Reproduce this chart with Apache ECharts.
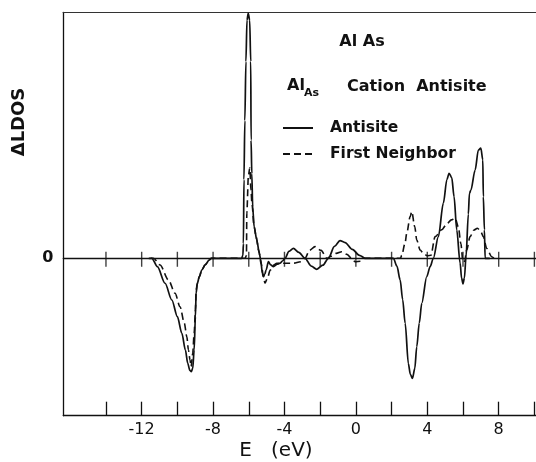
<!DOCTYPE html>
<html>
<head>
<meta charset="utf-8">
<script src="https://cdn.jsdelivr.net/npm/echarts@6/dist/echarts.min.js"></script>
<style>
  html, body { margin: 0; padding: 0; background: #fff; }
  #chart { width: 536px; height: 462px; }
</style>
</head>
<body>
<div id="chart"></div>
<script>
// energy (eV) and delta LDOS
var antisiteE = [-11.6, -11.43, -11.12, -10.69, -10.31, -10.0, -9.75, -9.55, -9.42, -9.3, -9.22, -9.14, -9.06, -8.99, -8.95, -8.88, -8.77, -8.63, -8.45, -8.21, -8.1,
    -6.4, -6.33, -6.3, -6.27, -6.22, -6.16, -6.1, -6.03, -5.95, -5.89, -5.87, -5.83, -5.78, -5.7, -5.55, -5.41, -5.33, -5.24, -5.18, -5.1, -5.03, -4.9, -4.77, -4.62, -4.4, -4.25, -4.1, -3.97,
    -3.75, -3.5, -3.2, -2.85, -2.5, -2.19, -1.85, -1.54, -1.2, -0.89, -0.6, -0.2, 0.2, 0.52,
    2.1, 2.3, 2.48, 2.62, 2.76, 2.94, 3.05, 3.17, 3.3, 3.41, 3.55, 3.69, 3.97, 4.16, 4.34, 4.62, 4.9, 5.1, 5.22, 5.37, 5.5, 5.65, 5.84, 5.92, 6.0, 6.08, 6.17,
    6.3, 6.36, 6.44, 6.68, 6.86, 7.0, 7.11, 7.14, 7.2, 7.24, 7.5];
var antisiteDos = [0, 0, -0.85, -2.54, -4.24, -5.93, -7.62, -9.32, -10.67, -11.4, -11.52, -11.2, -9.3, -5.93, -3.56, -2.54, -1.87, -1.19, -0.68, -0.17, 0,
    0, 0.3, 1.5, 8, 14, 20, 24.2, 24.9, 24.2, 20, 12, 8.6, 5.2, 3.2, 1.86, 0.5, -0.17, -1.52, -1.87, -1.6, -1.19, -0.35, -0.68, -0.85, -0.6, -0.5, -0.25, 0,
    0.7, 1.0, 0.6, 0, -0.8, -1.12, -0.7, 0, 1.2, 1.79, 1.6, 0.9, 0.3, 0,
    0, -0.8, -2.2, -4.2, -6.6, -10.7, -11.8, -12.2, -11.2, -9.0, -6.6, -4.57, -1.87, -0.85, 0, 2.2, 5.6, 8.0, 8.64, 8.2, 6.26, 2.88, -0.5, -2.0, -2.6, -2.0, 0.16,
    4.5, 6.6, 6.9, 8.97, 11.0, 11.2, 10.0, 6.26, 2.9, 0, 0];

var neighborE = [-11.5, -11.34, -10.97, -10.5, -10.13, -9.85, -9.61, -9.47, -9.38, -9.29, -9.23, -9.14, -9.06, -8.99, -8.95, -8.88, -8.77, -8.63, -8.45, -8.21, -8.1,
    -6.2, -6.13, -6.11, -6.02, -5.94, -5.88, -5.82, -5.7, -5.59, -5.45, -5.3, -5.18, -5.09, -4.95, -4.8, -4.6, -4.43, -4.0, -3.5, -3.1,
    -2.85, -2.6, -2.29, -1.95, -1.63, -1.4, -1.1, -0.79, -0.5, -0.2, -0.04, 0.25, 0.5,
    2.5, 2.57, 2.75, 2.85, 3.04, 3.13, 3.3, 3.41, 3.6, 3.78, 4.0, 4.2, 4.44, 4.81, 5.1, 5.35, 5.56, 5.74, 5.88, 6.0, 6.1, 6.2, 6.4, 6.6, 6.81, 7.0, 7.14, 7.33, 7.61, 7.74];
var neighborDos = [0, 0, -0.68, -2.2, -3.56, -4.92, -6.6, -7.97, -9.32, -10.34, -11.0, -9.65, -7.62, -5.25, -3.22, -2.54, -1.87, -1.19, -0.68, -0.17, 0,
    0, 0.3, 4.6, 8.4, 9.2, 7.0, 5.5, 3.2, 2.2, 0.84, -0.6, -1.87, -2.54, -2.0, -1.2, -0.7, -0.5, -0.5, -0.5, -0.35,
    0, 0.8, 1.18, 0.8, 0, 0.2, 0.5, 0.67, 0.4, -0.1, -0.35, -0.3, 0,
    0, 0.3, 1.5, 2.54, 4.23, 4.74, 3.2, 1.86, 0.84, 0.5, 0.25, 0.3, 2.2, 2.9, 3.5, 3.9, 4.07, 3.2, 1.5, -0.4, -0.3, 0.8, 2.2, 2.85, 3.05, 2.7, 2.2, 1.0, 0.16, 0];

var tickValues = [-14, -12, -10, -8, -6, -4, -2, 0, 2, 4, 6, 8, 10];
var labelValues = [-12, -8, -4, 0, 4, 8];
var seriesNames = ['Antisite', 'First Neighbor'];

function pairs(xs, ys) {
    return xs.map(function (x, i) { return [x, ys[i]]; });
}

var xMin = -16.39, xMax = 10.09;
var ink = '#111';
var font = 'DejaVu Sans';

var myChart = echarts.init(document.getElementById('chart'), null, { renderer: 'canvas' });

var option = {
    animation: false,
    backgroundColor: '#fff',
    grid: { left: 63.3, right: 0, top: 12.3, bottom: 46.3 },
    legend: {
        data: seriesNames,
        orient: 'vertical',
        left: 277,
        top: 115,
        itemWidth: 30,
        itemHeight: 14,
        itemGap: 10,
        selectedMode: false,
        itemStyle: { opacity: 0 },
        textStyle: { color: ink, fontFamily: font, fontWeight: 'bold', fontSize: 15.5, padding: [0, 0, 0, 12] }
    },
    xAxis: [
        {
            type: 'value', min: xMin, max: xMax, position: 'bottom',
            axisLine: { onZero: false, lineStyle: { color: ink, width: 1.3 } },
            axisTick: { inside: true, length: 14, customValues: tickValues, lineStyle: { color: ink, width: 1.3 } },
            axisLabel: { customValues: labelValues, margin: 6, color: ink, fontFamily: font, fontSize: 16 },
            splitLine: { show: false }
        },
        {
            // zero line
            type: 'value', min: xMin, max: xMax,
            axisLine: { onZero: true, lineStyle: { color: ink, width: 1.3 } },
            axisTick: { show: false }, axisLabel: { show: false }, splitLine: { show: false }
        },
        {
            // top frame
            type: 'value', min: xMin, max: xMax, position: 'top',
            axisLine: { onZero: false, lineStyle: { color: '#333', width: 1 } },
            axisTick: { show: false }, axisLabel: { show: false }, splitLine: { show: false }
        }
    ],
    yAxis: {
        type: 'value', min: -16, max: 25,
        axisLine: { show: true, onZero: false, lineStyle: { color: ink, width: 1.3 } },
        axisTick: { show: false },
        axisLabel: { customValues: [0], margin: 10, color: ink, fontFamily: font, fontWeight: 'bold', fontSize: 16 },
        splitLine: { show: false }
    },
    graphic: [
        { type: 'text', x: 19.5, y: 122, rotation: Math.PI / 2,
          style: { text: 'ΔLDOS', fill: ink, font: 'bold 18px "DejaVu Sans"', align: 'center', verticalAlign: 'middle' } },
        { type: 'text', x: 276, y: 451,
          style: { text: 'E   (eV)', fill: ink, font: '20px "DejaVu Sans"', align: 'center', verticalAlign: 'middle' } },
        { type: 'text', x: 362, y: 41.5,
          style: { text: 'Al As', fill: ink, font: 'bold 16px "DejaVu Sans"', align: 'center', verticalAlign: 'middle' } },
        { type: 'text', x: 287, y: 86,
          style: { text: 'Al', fill: ink, font: 'bold 16px "DejaVu Sans"', align: 'left', verticalAlign: 'middle' } },
        { type: 'text', x: 304, y: 93,
          style: { text: 'As', fill: ink, font: 'bold 11px "DejaVu Sans"', align: 'left', verticalAlign: 'middle' } },
        { type: 'text', x: 347, y: 86.5,
          style: { text: 'Cation  Antisite', fill: ink, font: 'bold 16px "DejaVu Sans"', align: 'left', verticalAlign: 'middle' } }
    ],
    series: [
        {
            name: 'First Neighbor', type: 'line', data: pairs(neighborE, neighborDos),
            symbol: 'none', smooth: 0.3, smoothMonotone: 'x',
            lineStyle: { color: ink, width: 1.6, type: [7, 4] }, itemStyle: { color: ink }
        },
        {
            name: 'Antisite', type: 'line', data: pairs(antisiteE, antisiteDos),
            symbol: 'none', smooth: 0.3, smoothMonotone: 'x',
            lineStyle: { color: ink, width: 1.7 }, itemStyle: { color: ink }
        },
        {
            // tick marks crossing the zero line
            type: 'scatter', silent: true, data: tickValues.map(function (v) { return [v, 0]; }),
            symbol: 'rect', symbolSize: [1.4, 15], symbolOffset: [0, 1],
            itemStyle: { color: ink }, z: 3
        }
    ]
};
myChart.setOption(option);
</script>
</body>
</html>
